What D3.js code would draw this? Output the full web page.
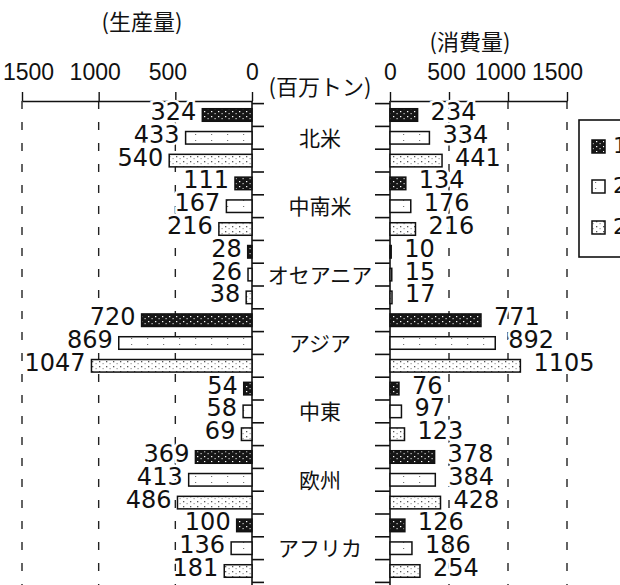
<!DOCTYPE html>
<html>
<head>
<meta charset="utf-8">
<script src="https://cdn.jsdelivr.net/npm/d3@7"></script>
<style>
  html, body { margin: 0; padding: 0; background: #fff; }
  svg { display: block; }
  .num { font-family: "DejaVu Sans", sans-serif; font-size: 24px; fill: #111; }
  .tick text { font-family: "Liberation Sans", sans-serif; font-size: 23px; fill: #111; }
  .jp { font-family: "Noto Sans CJK JP", sans-serif; fill: #111; }
</style>
</head>
<body>
<div id="chart"></div>
<script>
// --- Data ---
const regions = ["北米", "中南米", "オセアニア", "アジア", "中東", "欧州", "アフリカ"];
const prod1 = [324, 111, 28, 720, 54, 369, 100];
const prod2 = [433, 167, 26, 869, 58, 413, 136];
const prod3 = [540, 216, 38, 1047, 69, 486, 181];
const cons1 = [234, 134, 10, 771, 76, 378, 126];
const cons2 = [334, 176, 15, 892, 97, 384, 186];
const cons3 = [441, 216, 17, 1105, 123, 428, 254];
const seriesNames = ["1990年", "2000年", "2010年"];
const axisTicks = [0, 500, 1000, 1500];

const width = 620, height = 585;

const svg = d3.select("#chart").append("svg")
    .attr("width", width)
    .attr("height", height);

// patterns for the three series (scan-like fills)
const defs = svg.append("defs");
const pDark = defs.append("pattern").attr("id", "pDark")
    .attr("patternUnits", "userSpaceOnUse").attr("width", 7).attr("height", 5);
pDark.append("rect").attr("width", 7).attr("height", 5).attr("fill", "#161616");
pDark.append("rect").attr("x", 1).attr("y", 1).attr("width", 1.3).attr("height", 1.2).attr("fill", "#fff");
pDark.append("rect").attr("x", 4.5).attr("y", 3).attr("width", 1.2).attr("height", 1.2).attr("fill", "#ccc");

const pWhite = defs.append("pattern").attr("id", "pWhite")
    .attr("patternUnits", "userSpaceOnUse").attr("width", 16).attr("height", 6);
pWhite.append("rect").attr("width", 16).attr("height", 6).attr("fill", "#fff");
pWhite.append("rect").attr("x", 3).attr("y", 2).attr("width", 1.2).attr("height", 1).attr("fill", "#777");

const pDot = defs.append("pattern").attr("id", "pDot")
    .attr("patternUnits", "userSpaceOnUse").attr("width", 7).attr("height", 5);
pDot.append("rect").attr("width", 7).attr("height", 5).attr("fill", "#fff");
pDot.append("rect").attr("x", 1).attr("y", 1).attr("width", 1.3).attr("height", 1.3).attr("fill", "#555");
pDot.append("rect").attr("x", 4.5).attr("y", 3).attr("width", 1.2).attr("height", 1.2).attr("fill", "#999");

const fills = ["url(#pDark)", "url(#pWhite)", "url(#pDot)"];

// --- Scales ---
const xL = d3.scaleLinear().domain([0, 1500]).range([252, 22]);
const xR = d3.scaleLinear().domain([0, 1500]).range([390, 567]);
const yGroup = d3.scaleBand().domain(regions).range([103.6, 582.4]);
const ySub = d3.scaleBand().domain([0, 1, 2]).range([0, yGroup.bandwidth()])
    .paddingInner(0.45).paddingOuter(0.225);
const axisY = 101;
// small nudges of the top tick labels, as printed in the source figure
const labelNudgeL = { 0: 0, 500: -8, 1000: -4, 1500: 6 };
const labelNudgeR = { 0: 0, 500: -3, 1000: -8, 1500: -10 };

// --- Headings ---
svg.append("text").attr("class", "jp").attr("x", 142).attr("y", 30)
    .attr("text-anchor", "middle").style("font-size", "22px").text("(生産量)");
svg.append("text").attr("class", "jp").attr("x", 470).attr("y", 50)
    .attr("text-anchor", "middle").style("font-size", "22px").text("(消費量)");
svg.append("text").attr("class", "jp").attr("x", 320).attr("y", 95)
    .attr("text-anchor", "middle").style("font-size", "22px").text("(百万トン)");

// --- Dashed grid lines ---
const gridVals = [500, 1000, 1500];
svg.append("g").selectAll("line.gl").data(gridVals).join("line")
    .attr("x1", d => xL(d)).attr("x2", d => xL(d))
    .attr("y1", axisY).attr("y2", height)
    .attr("stroke", "#222").attr("stroke-width", 1.4).attr("stroke-dasharray", "8,13");
svg.append("g").selectAll("line.gr").data(gridVals).join("line")
    .attr("x1", d => xR(d)).attr("x2", d => xR(d))
    .attr("y1", axisY).attr("y2", height)
    .attr("stroke", "#222").attr("stroke-width", 1.4).attr("stroke-dasharray", "8,13");

// --- Top axes ---
const axisLeft = d3.axisTop(xL).tickValues(axisTicks).tickSize(9).tickSizeOuter(0)
    .tickPadding(12).tickFormat(d3.format("d"));
const axisRight = d3.axisTop(xR).tickValues(axisTicks).tickSize(9).tickSizeOuter(0)
    .tickPadding(12).tickFormat(d3.format("d"));
[[axisLeft, labelNudgeL], [axisRight, labelNudgeR]].forEach(([ax, nudge]) => {
    const g = svg.append("g").attr("transform", `translate(0,${axisY})`).call(ax);
    g.select(".domain").attr("stroke", "#111").attr("stroke-width", 1.6);
    g.selectAll(".tick line").attr("stroke", "#111").attr("stroke-width", 1.4);
    g.selectAll(".tick text").attr("font-family", null).attr("font-size", null)
        .attr("dx", d => nudge[d]);
});

// --- Center axis lines with bracket ticks ---
const bounds = [];
regions.forEach(r => {
    [0, 1, 2].forEach(j => bounds.push(yGroup(r) + ySub.step() * j));
});
bounds.push(yGroup.range()[1]);

svg.append("line").attr("x1", xL(0)).attr("x2", xL(0)).attr("y1", axisY).attr("y2", height)
    .attr("stroke", "#111").attr("stroke-width", 1.6);
svg.append("line").attr("x1", xR(0)).attr("x2", xR(0)).attr("y1", axisY).attr("y2", height)
    .attr("stroke", "#111").attr("stroke-width", 1.6);
svg.append("g").selectAll("line").data(bounds).join("line")
    .attr("x1", xL(0)).attr("x2", xL(0) + 12).attr("y1", d => d).attr("y2", d => d)
    .attr("stroke", "#111").attr("stroke-width", 1.6);
svg.append("g").selectAll("line").data(bounds).join("line")
    .attr("x1", xR(0) - 15).attr("x2", xR(0)).attr("y1", d => d).attr("y2", d => d)
    .attr("stroke", "#111").attr("stroke-width", 1.6);

// --- Bars ---
const prodSeries = [prod1, prod2, prod3];
const consSeries = [cons1, cons2, cons3];

function drawSide(series, scale, side) {
    series.forEach((vals, j) => {
        const g = svg.append("g");
        const data = regions.map((r, i) => ({ region: r, value: vals[i] }));
        g.selectAll("rect").data(data).join("rect")
            .attr("x", d => side === "left" ? scale(d.value) : scale(0))
            .attr("y", d => yGroup(d.region) + ySub(j))
            .attr("width", d => Math.abs(scale(d.value) - scale(0)))
            .attr("height", ySub.bandwidth())
            .attr("fill", fills[j])
            .attr("stroke", "#111")
            .attr("stroke-width", 1.5);
        g.selectAll("text").data(data).join("text")
            .attr("class", "num")
            .attr("x", d => side === "left" ? scale(d.value) - 6 : scale(d.value) + 13)
            .attr("y", d => yGroup(d.region) + ySub(j) + ySub.bandwidth() / 2 + 5)
            .attr("text-anchor", side === "left" ? "end" : "start")
            .attr("stroke", "#fff").attr("stroke-width", 5)
            .attr("paint-order", "stroke")
            .text(d => d.value);
    });
}
drawSide(prodSeries, xL, "left");
drawSide(consSeries, xR, "right");

// --- Region labels ---
svg.append("g").selectAll("text").data(regions).join("text")
    .attr("class", "jp")
    .attr("x", (xL(0) + xR(0)) / 2 - 1)
    .attr("y", d => yGroup(d) + yGroup.bandwidth() / 2 + 8)
    .attr("text-anchor", "middle")
    .style("font-size", "21px")
    .text(d => d);

// --- Legend (cut at the right edge) ---
const legend = svg.append("g");
legend.append("rect").attr("x", 579).attr("y", 120).attr("width", 70).attr("height", 137)
    .attr("fill", "#fff").attr("stroke", "#111").attr("stroke-width", 1.6);
const legendY = [140, 180, 221];
seriesNames.forEach((name, j) => {
    legend.append("rect").attr("x", 592).attr("y", legendY[j]).attr("width", 13).attr("height", 13)
        .attr("fill", fills[j]).attr("stroke", "#111").attr("stroke-width", 1.5);
    legend.append("text").attr("class", "num").attr("x", 613).attr("y", legendY[j] + 13)
        .style("font-size", "22px").text(name);
});
</script>
</body>
</html>
